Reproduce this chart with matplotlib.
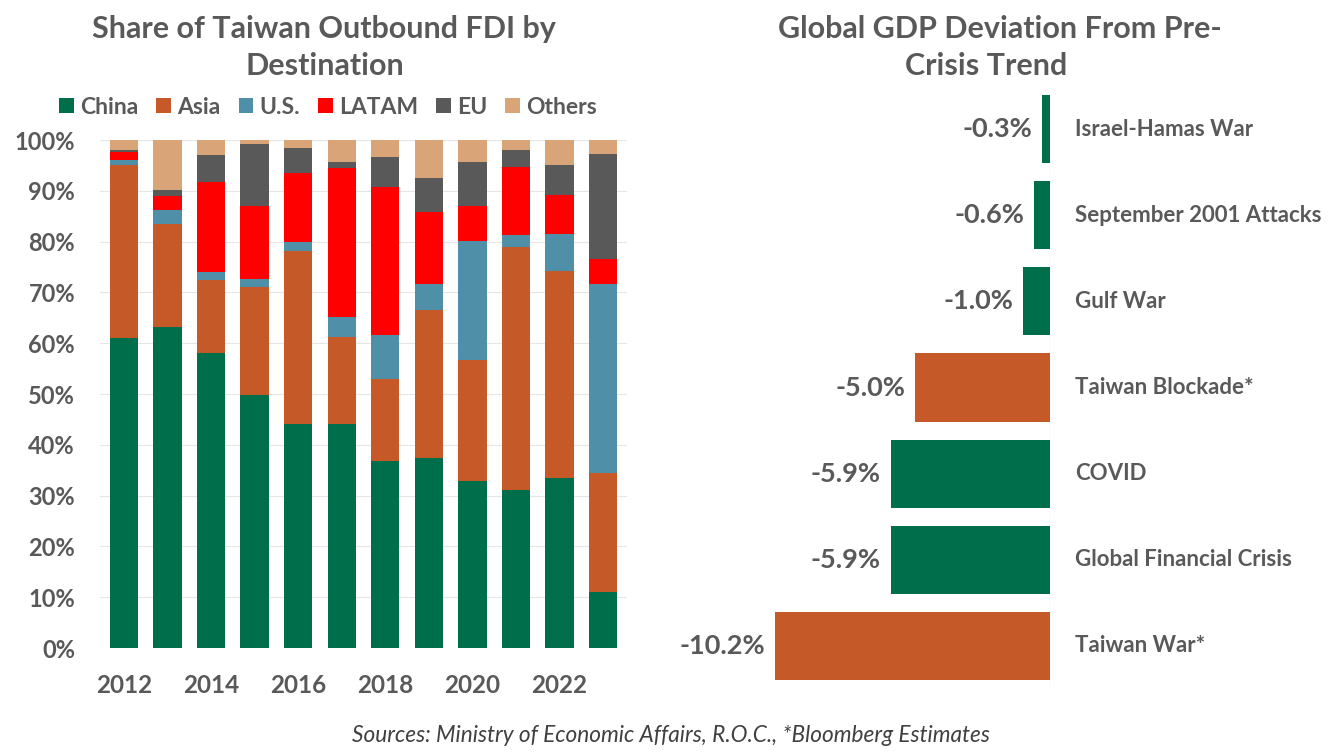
import matplotlib
matplotlib.use("Agg")
import matplotlib.pyplot as plt
from matplotlib.patches import Patch
import numpy as np

plt.rcParams['font.family'] = ['Lato', 'DejaVu Sans']

# ---------------- data ----------------
years = [2012, 2013, 2014, 2015, 2016, 2017, 2018, 2019, 2020, 2021, 2022, 2023]
year_ticks = [2012, 2014, 2016, 2018, 2020, 2022]
china  = [61.0, 63.2, 58.1, 49.8, 44.0, 44.0, 36.9, 37.5, 32.9, 31.2, 33.5, 11.0]
asia   = [34.0, 20.3, 14.4, 21.2, 34.2, 17.2, 16.1, 29.0, 23.7, 47.7, 40.7, 23.4]
us     = [1.0, 2.7, 1.5, 1.6, 1.8, 4.0, 8.6, 5.2, 23.6, 2.4, 7.3, 37.2]
latam  = [1.6, 2.8, 17.8, 14.4, 13.5, 29.2, 29.2, 14.1, 6.8, 13.3, 7.7, 4.9]
eu     = [0.4, 1.2, 5.3, 12.3, 4.9, 1.2, 5.8, 6.8, 8.6, 3.5, 5.8, 20.8]
others = [2.0, 9.8, 2.9, 0.7, 1.6, 4.4, 3.4, 7.4, 4.4, 1.9, 5.0, 2.7]
series_names = ["China", "Asia", "U.S.", "LATAM", "EU", "Others"]

events = ["Israel-Hamas War", "September 2001 Attacks", "Gulf War",
          "Taiwan Blockade*", "COVID", "Global Financial Crisis", "Taiwan War*"]
gdp_dev = [-0.3, -0.6, -1.0, -5.0, -5.9, -5.9, -10.2]
event_is_taiwan = [False, False, False, True, False, False, True]

# ---------------- styles ----------------
GREEN = "#006E4B"
ORANGE = "#C55A28"
BLUE = "#4F90A8"
RED = "#FF0000"
GREY = "#595959"
TAN = "#D9A478"
TXT = "#595959"
colors = [GREEN, ORANGE, BLUE, RED, GREY, TAN]

W, H = 1343, 754
fig = plt.figure(figsize=(W / 100, H / 100), dpi=100)

# ---------------- left chart ----------------
ax1 = fig.add_axes([100 / W, 1 - 648 / H, 527 / W, 508 / H])
x = np.arange(len(years))
bottom = np.zeros(len(years))
for name, vals, c in zip(series_names, [china, asia, us, latam, eu, others], colors):
    v = np.array(vals) / 100.0
    ax1.bar(x, v, bottom=bottom, width=0.65, color=c, label=name, zorder=3)
    bottom += v
ax1.set_xlim(-0.55, len(years) - 0.45)
ax1.set_ylim(0, 1.0)
ax1.set_yticks(np.arange(0, 1.01, 0.1))
ax1.set_yticklabels([f"{int(round(t * 100))}%" for t in np.arange(0, 1.01, 0.1)])
ax1.set_xticks([years.index(y) for y in year_ticks])
ax1.set_xticklabels([str(y) for y in year_ticks])
ax1.grid(axis='y', color='#E6E6E6', lw=0.8, zorder=0)
for s in ax1.spines.values():
    s.set_visible(False)
ax1.tick_params(axis='y', length=0, labelsize=17, labelcolor=TXT, pad=18)
ax1.tick_params(axis='x', length=0, labelsize=17.5, labelcolor=TXT, pad=19)
for lab in ax1.get_xticklabels() + ax1.get_yticklabels():
    lab.set_fontweight('bold')

fig.text(324 / W, 1 - 29 / H, "Share of Taiwan Outbound FDI by", ha='center', va='center',
         fontsize=22, color=TXT, fontweight='bold')
fig.text(325 / W, 1 - 66 / H, "Destination", ha='center', va='center',
         fontsize=22, color=TXT, fontweight='bold')

handles = [Patch(facecolor=c, label=n) for n, c in zip(series_names, colors)]
fig.legend(handles=handles, loc='center', bbox_to_anchor=(328 / W, 1 - 107 / H), ncol=6,
           frameon=False, prop={'size': 16.5, 'weight': 'bold'}, handlelength=0.65,
           handleheight=0.65, handletextpad=0.25, columnspacing=0.8, labelcolor=TXT)

# ---------------- right chart ----------------
ax2 = fig.add_axes([700 / W, 1 - 689 / H, 350 / W, 603 / H])
yy = np.arange(len(events))
bar_colors = [ORANGE if t else GREEN for t in event_is_taiwan]
ax2.barh(yy, gdp_dev, height=0.79, color=bar_colors, zorder=3)
ax2.set_xlim(-12.96, 0)
ax2.set_ylim(len(events) - 0.5, -0.5)
ax2.axvline(0, color='#E3E3E3', lw=1, zorder=1)
ax2.axis('off')
for i, (ev, v) in enumerate(zip(events, gdp_dev)):
    ax2.annotate(f"{v:.1f}%", xy=(v, i), xytext=(-7, 0), textcoords='offset points',
                 ha='right', va='center', fontsize=19.5, fontweight='bold', color=TXT)
    ax2.text(1 + 25 / 350, i, ev, transform=ax2.get_yaxis_transform(), ha='left',
             va='center', fontsize=16, fontweight='bold', color=TXT, clip_on=False)

fig.text(1000 / W, 1 - 29 / H, "Global GDP Deviation From Pre-", ha='center', va='center',
         fontsize=22, color=TXT, fontweight='bold')
fig.text(986 / W, 1 - 66 / H, "Crisis Trend", ha='center', va='center',
         fontsize=22, color=TXT, fontweight='bold')

fig.text(671 / W, 1 - 736 / H, "Sources: Ministry of Economic Affairs, R.O.C., *Bloomberg Estimates",
         ha='center', va='center', fontsize=16.3, style='italic', color='#404040')

fig.savefig("out.png", dpi=100)
